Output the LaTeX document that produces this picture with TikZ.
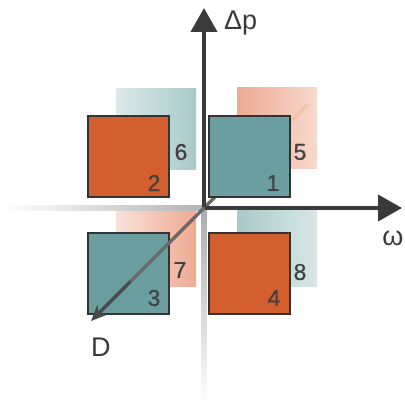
\documentclass[tikz,border=0pt]{standalone}
\usepackage{fontspec}
\setmainfont{Liberation Sans}
\newfontfamily\numfont[FakeBold=0.6]{Liberation Sans}
\usetikzlibrary{arrows.meta}
\definecolor{tealS}{HTML}{6B9E9F}
\definecolor{orS}{HTML}{D35F2E}
\definecolor{tealL}{HTML}{A9C9C9}
\definecolor{orL}{HTML}{EEAA92}
\definecolor{axisD}{HTML}{3A3A3A}
\definecolor{diagG}{HTML}{6A6A6A}
\definecolor{diagF}{HTML}{F4C3A8}
\definecolor{numC}{HTML}{404040}
\definecolor{edgeC}{HTML}{333333}
\tikzset{
  sq/.style={draw=edgeC, line width=1.3pt, minimum size=81pt, inner sep=0pt, outer sep=0pt},
  fsq/.style={minimum size=80pt, inner sep=0pt, outer sep=0pt},
  num/.style={font=\numfont\fontsize{23}{23}\selectfont, text=numC, inner sep=0pt},
  alab/.style={font=\fontsize{27}{27}\selectfont, text=axisD, inner sep=0pt},
  axisline/.style={draw=axisD, line width=4pt, -{Triangle[width=26pt,length=24pt]}},
  diagline/.style={draw=diagG, line width=3.5pt, line cap=round},
}
\begin{document}
\begin{tikzpicture}[x=1pt,y=-1pt]
\useasboundingbox (0,0) rectangle (404,409);
% faded squares
\node[fsq, left color=tealL!40!white, right color=tealL] (f6) at (156,129) {};
\node[fsq, left color=orL, right color=orL!45!white] (f5) at (277,128) {};
\node[fsq, left color=orL!35!white, right color=orL] (f7) at (156,246) {};
\node[fsq, left color=tealL, right color=tealL!45!white] (f8) at (277,246) {};
% coordinates
\coordinate (O) at (204,208);
\coordinate (ytip) at (204,8);
\coordinate (xtip) at (402,208);
\coordinate (ne) at (307,105);
\coordinate (dmid) at (130,282);
\coordinate (dtip) at (91,321);
% faint diagonal part (upper right)
\draw[draw=diagF, line width=3.5pt, line cap=round] (O) -- (ne);
\draw[diagline] (O) -- (222,190);
% faded axis parts
\shade[top color=gray!65, bottom color=white] (201.5,208) rectangle (206.5,405);
\shade[left color=white, right color=gray!60] (4,205.5) rectangle (204,210.5);
% dark axis parts
\draw[axisline] (O) -- (ytip);
\draw[axisline] (O) -- (xtip);
% solid squares
\node[sq, fill=orS] (s2) at (128.5,156.5) {};
\node[sq, fill=tealS] (s1) at (249.5,156.5) {};
\node[sq, fill=tealS] (s3) at (128.5,273.5) {};
\node[sq, fill=orS] (s4) at (249.5,273.5) {};
% diagonal D axis
\draw[diagline] (O) -- (dmid);
\draw[diagline, draw=diagG!70!black, -{Stealth[length=16pt,width=14pt]}] (dmid) -- (dtip);
% numbers
\node[num] (n6) at (181,152) {6};
\node[num] (n2) at (154,183) {2};
\node[num] (n1) at (273,183) {1};
\node[num] (n5) at (300,152) {5};
\node[num] (n7) at (180,270) {7};
\node[num] (n3) at (154,298) {3};
\node[num] (n4) at (274,298) {4};
\node[num] (n8) at (300,272) {8};
% axis labels
\node[alab, anchor=base west] (lp) at (224,30) {Δp};
\node[alab, anchor=base] (lw) at (393,245) {ω};
\node[alab, anchor=base west] (ld) at (91,356) {D};
\end{tikzpicture}
\end{document}
